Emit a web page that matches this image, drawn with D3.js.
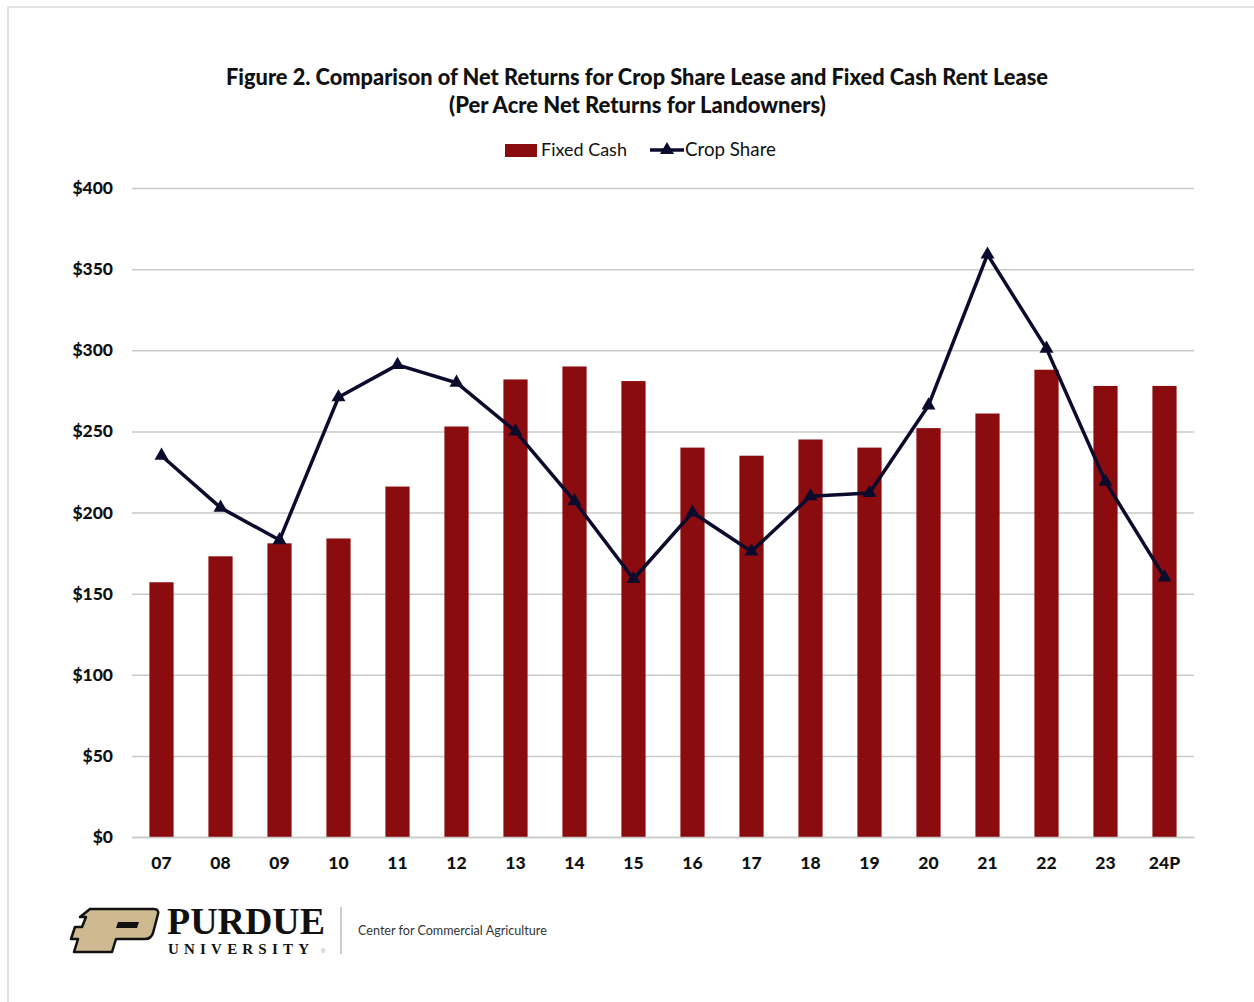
<!DOCTYPE html>
<html><head><meta charset="utf-8">
<script src="https://cdn.jsdelivr.net/npm/d3@7"></script>
<style>body{margin:0;background:#fff;} svg{display:block;}</style>
</head><body>
<svg id="c" width="1254" height="1002"></svg>
<script>
const categories = ["07","08","09","10","11","12","13","14","15","16","17","18","19","20","21","22","23","24P"];
const fixedCash = [157,173,181,184,216,253,282,290,281,240,235,245,240,252,261,288,278,278];
const cropShare = [235,203,183,271,291,280,250,207,159,200,176,210,212,266,359,301,219,160];
const yTicks = [0,50,100,150,200,250,300,350,400];
const titleLines = ["Figure 2. Comparison of Net Returns for Crop Share Lease and Fixed Cash Rent Lease","(Per Acre Net Returns for Landowners)"];

const FONT = "Lato, 'Open Sans', sans-serif";
const svg = d3.select("#c");
const BAR = "#8a0c0f", LINE = "#0b0b2e", GRID = "#c9c9c9";

// frame
svg.append("path").attr("d","M8,1002 L8,7 L1254,7").attr("fill","none").attr("stroke","#e2e2e2").attr("stroke-width",2);

function fit(sel, w){ const n=sel.node(); const cur=n.getComputedTextLength(); const fs=parseFloat(sel.attr("font-size")); sel.attr("font-size", fs*w/cur); }

const t1 = svg.append("text").attr("x",637).attr("y",85).attr("text-anchor","middle").attr("font-family",FONT).attr("font-weight","900").attr("font-size",20).attr("fill","#111").text(titleLines[0]);
fit(t1, 822);
const t2 = svg.append("text").attr("x",637.5).attr("y",113).attr("text-anchor","middle").attr("font-family",FONT).attr("font-weight","900").attr("font-size",20).attr("fill","#111").text(titleLines[1]);
fit(t2, 377);

const m = {l:132, r:1194, t:188, b:837};
const x = d3.scaleBand().domain(categories).range([m.l,m.r]).paddingInner(0.59).paddingOuter(0.295);
const y = d3.scaleLinear().domain([0,400]).range([m.b,m.t]);

// grid
const yAxis = d3.axisLeft(y).tickValues(yTicks).tickSize(-(m.r-m.l)).tickFormat(d=>"$"+d);
const ga = svg.append("g").attr("transform",`translate(${m.l},0)`).call(yAxis);
ga.select(".domain").remove();
ga.selectAll(".tick line").attr("stroke",GRID).attr("stroke-width",1.5);
ga.selectAll(".tick text").attr("x",-19).attr("font-family",FONT).attr("font-weight","900").attr("font-size",17.5).attr("fill","#111");

// bars
svg.append("g").selectAll("rect").data(categories).join("rect")
  .attr("x",d=>x(d)).attr("width",x.bandwidth())
  .attr("y",(d,i)=>y(fixedCash[i])).attr("height",(d,i)=>y(0)-y(fixedCash[i]))
  .attr("fill",BAR);

// x axis
const xAxis = d3.axisBottom(x).tickSize(0).tickPadding(20);
const gx = svg.append("g").attr("transform",`translate(0,${m.b})`).call(xAxis);
gx.select(".domain").attr("stroke",GRID).attr("stroke-width",1.5);
gx.selectAll(".tick text").attr("font-family",FONT).attr("font-weight","900").attr("font-size",17.5).attr("fill","#111");

// line
const cx = d=>x(d)+x.bandwidth()/2;
const line = d3.line().x((d,i)=>cx(categories[i])).y(d=>y(d));
svg.append("path").datum(cropShare).attr("d",line).attr("fill","none").attr("stroke",LINE).attr("stroke-width",3.5).attr("stroke-linejoin","round");
const tri = d3.symbol().type(d3.symbolTriangle).size(85);
svg.append("g").selectAll("path").data(cropShare).join("path")
  .attr("d",tri).attr("transform",(d,i)=>`translate(${cx(categories[i])},${y(d)})`).attr("fill",LINE);

// legend
const lg = svg.append("g");
lg.append("rect").attr("x",505).attr("y",144).attr("width",32).attr("height",13).attr("fill",BAR);
const l1 = lg.append("text").attr("x",541).attr("y",156).attr("font-family",FONT).attr("font-size",17).attr("fill","#111").text("Fixed Cash");
fit(l1, 86);
lg.append("line").attr("x1",650).attr("x2",684).attr("y1",150).attr("y2",150).attr("stroke",LINE).attr("stroke-width",3.5);
lg.append("path").attr("d",tri).attr("transform","translate(667,150)").attr("fill",LINE);
const l2 = lg.append("text").attr("x",685).attr("y",156).attr("font-family",FONT).attr("font-size",17).attr("fill","#111").text("Crop Share");
fit(l2, 91);

// logo
const logo = svg.append("g");
logo.append("path").attr("d","M90,909 L154,909 Q159,909 158,914 L153,933 Q151,939 145,939 L116,939 L112,952 L74,952 L78,939 L71,939 L75,927 L82,927 L86,917 L80,917 Z")
  .attr("fill","#cfb991").attr("stroke","#111").attr("stroke-width",2.5).attr("stroke-linejoin","round");
logo.append("path").attr("d","M118,922 L139,922 L137,928 L116,928 Z").attr("fill","#111");
const pu = logo.append("text").attr("x",167).attr("y",934).attr("font-family","'Liberation Serif', 'DejaVu Serif', serif").attr("font-weight","bold").attr("font-size",36).attr("fill","#111").text("PURDUE");
fit(pu, 158);
logo.append("text").attr("x",168).attr("y",954).attr("font-family","'Liberation Serif', 'DejaVu Serif', serif").attr("font-weight","bold").attr("font-size",15).attr("letter-spacing",5.2).attr("fill","#111").text("UNIVERSITY");
logo.append("text").attr("x",321).attr("y",953).attr("font-family","sans-serif").attr("font-size",6).attr("fill","#999").text("®");
logo.append("line").attr("x1",341).attr("x2",341).attr("y1",907).attr("y2",954).attr("stroke","#999").attr("stroke-width",1);
const cc = logo.append("text").attr("x",358).attr("y",935).attr("font-family",FONT).attr("font-size",14).attr("fill","#333").text("Center for Commercial Agriculture");
fit(cc, 189);
</script>
</body></html>
